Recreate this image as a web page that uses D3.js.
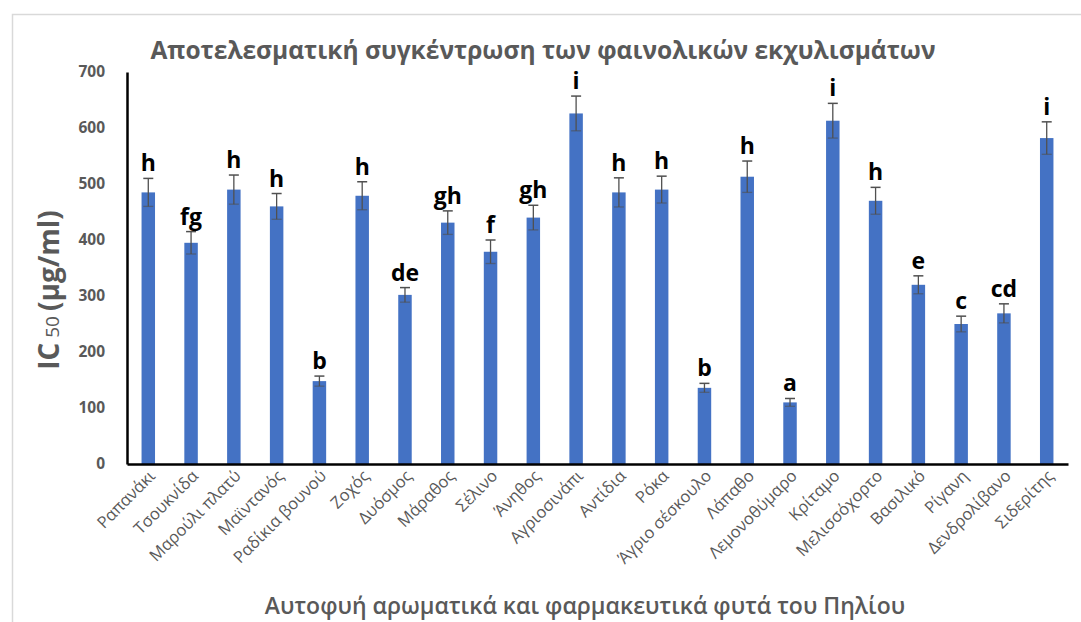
<!DOCTYPE html>
<html>
<head>
<meta charset="utf-8">
<script src="https://cdn.jsdelivr.net/npm/d3@7"></script>
<style>
  body { margin: 0; background: #fff; }
  text { font-family: "Open Sans", "Noto Sans", sans-serif; }
</style>
</head>
<body>
<div id="chart"></div>
<script>
// plants (x categories)
var plants = ["Ραπανάκι", "Τσουκνίδα", "Μαρούλι πλατύ", "Μαϊντανός", "Ραδίκια βουνού",
  "Ζοχός", "Δυόσμος", "Μάραθος", "Σέλινο", "Άνηθος", "Αγριοσινάπι", "Αντίδια", "Ρόκα",
  "Άγριο σέσκουλο", "Λάπαθο", "Λεμονοθύμαρο", "Κρίταμο", "Μελισσόχορτο", "Βασιλικό",
  "Ρίγανη", "Δενδρολίβανο", "Σιδερίτης"];

// IC50 values (μg/ml)
var ic50 = [485, 395, 490, 460, 148, 479, 302, 431, 379, 440, 626, 485, 490,
  136, 513, 110, 613, 470, 320, 250, 269, 582];

// standard deviations
var sd = [25, 20, 26, 23, 9, 25, 13, 21, 21, 22, 31, 26, 24,
  8, 28, 7, 31, 24, 16, 14, 17, 29];

// significance letters
var letters = ["h", "fg", "h", "h", "b", "h", "de", "gh", "f", "gh", "i", "h", "h",
  "b", "h", "a", "i", "h", "e", "c", "cd", "i"];

var yTicks = [0, 100, 200, 300, 400, 500, 600, 700];

var W = 1081, H = 622;
var margin = {top: 72, right: 13, bottom: 158, left: 127},
    width = W - margin.left - margin.right,
    height = H - margin.top - margin.bottom;

var svg = d3.select("#chart").append("svg")
    .attr("width", W)
    .attr("height", H);

// light frame round the chart
svg.append("rect")
    .attr("x", 12.5).attr("y", 14.5)
    .attr("width", 1200).attr("height", 800)
    .attr("fill", "none")
    .attr("stroke", "#d9d9d9")
    .attr("stroke-width", 1.5);

var g = svg.append("g")
    .attr("transform", "translate(" + margin.left + "," + margin.top + ")");

// scales
var x = d3.scaleBand().domain(plants).range([0, width]).paddingInner(0.685).paddingOuter(0.34);
var y = d3.scaleLinear().domain([0, 700]).range([height, 0]);

// bars
g.selectAll("rect.bar")
    .data(plants)
  .enter().append("rect")
    .attr("class", "bar")
    .attr("x", function(d) { return x(d); })
    .attr("y", function(d, i) { return y(ic50[i]); })
    .attr("width", x.bandwidth())
    .attr("height", function(d, i) { return height - y(ic50[i]); })
    .attr("fill", "#4472C4");

// error bars
var err = g.selectAll("g.err")
    .data(plants)
  .enter().append("g")
    .attr("class", "err")
    .attr("transform", function(d) { return "translate(" + (x(d) + x.bandwidth() / 2) + ",0)"; });

err.append("line")
    .attr("y1", function(d, i) { return y(ic50[i] - sd[i]); })
    .attr("y2", function(d, i) { return y(ic50[i] + sd[i]); })
    .attr("stroke", "#505050").attr("stroke-width", 1.3);
err.append("line")
    .attr("x1", -5).attr("x2", 5)
    .attr("y1", function(d, i) { return y(ic50[i] + sd[i]); })
    .attr("y2", function(d, i) { return y(ic50[i] + sd[i]); })
    .attr("stroke", "#505050").attr("stroke-width", 1.5);
err.append("line")
    .attr("x1", -5).attr("x2", 5)
    .attr("y1", function(d, i) { return y(ic50[i] - sd[i]); })
    .attr("y2", function(d, i) { return y(ic50[i] - sd[i]); })
    .attr("stroke", "#505050").attr("stroke-width", 1.3).attr("opacity", 0.6);

// letters above the error bars
err.append("text")
    .attr("y", function(d, i) { return y(ic50[i] + sd[i]) - 7; })
    .attr("text-anchor", "middle")
    .style("font-size", "23px")
    .style("font-weight", "bold")
    .attr("fill", "#000")
    .text(function(d, i) { return letters[i]; });

// Y axis
var yAxis = g.append("g").call(d3.axisLeft(y).tickValues(yTicks).tickSize(0).tickPadding(22));
yAxis.select(".domain").attr("stroke", "#000").attr("stroke-width", 2.5);
yAxis.selectAll("text")
    .style("font-size", "15.5px").style("font-weight", "bold")
    .attr("fill", "#595959");

// X axis
var xAxis = g.append("g")
    .attr("transform", "translate(0," + height + ")")
    .call(d3.axisBottom(x).tickSize(0).tickPadding(0));
xAxis.select(".domain").attr("stroke", "#000").attr("stroke-width", 2.5);
xAxis.selectAll("text")
    .attr("text-anchor", "end")
    .attr("dy", "0")
    .attr("transform", "translate(8,13) rotate(-45)")
    .style("font-size", "16.5px")
    .attr("fill", "#595959");

// title
svg.append("text")
    .attr("x", 543).attr("y", 59)
    .attr("text-anchor", "middle")
    .style("font-size", "24.5px").style("font-weight", "bold")
    .attr("fill", "#595959")
    .text("Αποτελεσματική συγκέντρωση των φαινολικών εκχυλισμάτων");

// y axis title
var yt = svg.append("text")
    .attr("transform", "translate(59,290) rotate(-90)")
    .attr("text-anchor", "middle")
    .attr("fill", "#595959")
    .style("font-size", "28px").style("font-weight", "bold");
yt.append("tspan").text("IC");
yt.append("tspan").style("font-size", "19px").style("font-weight", "normal").text(" 50 ");
yt.append("tspan").text("(μg/ml)");

// x axis title
svg.append("text")
    .attr("x", 585).attr("y", 614)
    .attr("text-anchor", "middle")
    .style("font-size", "23px").style("font-weight", "600")
    .attr("fill", "#595959")
    .text("Αυτοφυή αρωματικά και φαρμακευτικά φυτά του Πηλίου");
</script>
</body>
</html>
